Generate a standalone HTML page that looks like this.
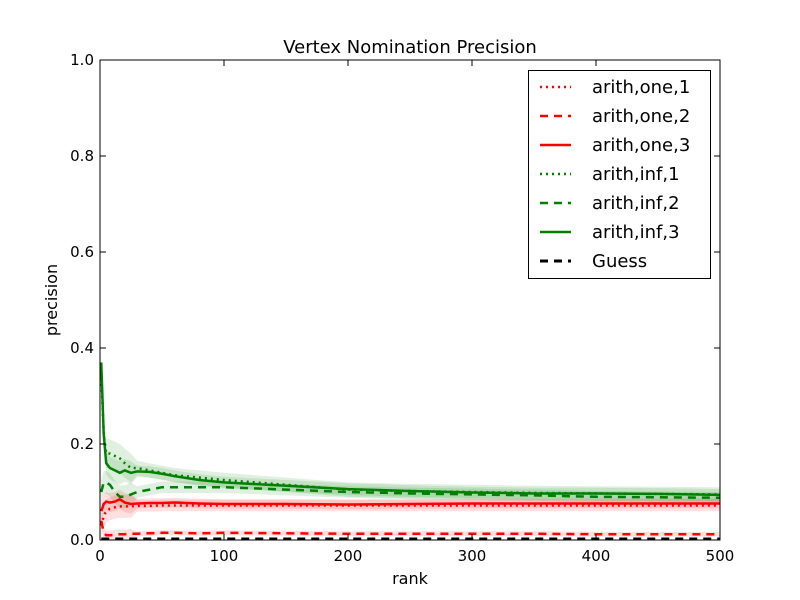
<!DOCTYPE html>
<html><head><meta charset="utf-8"><style>
body{margin:0;background:#fff}
svg{display:block;font-family:"DejaVu Sans","Liberation Sans",sans-serif}
</style></head><body>
<svg id="chart" width="800" height="600" xmlns="http://www.w3.org/2000/svg">
<rect width="800" height="600" fill="#fff"/>
<g id="bands"></g><g id="lines"></g>
<g id="axes"></g>
<text x="410" y="53" text-anchor="middle" font-size="18">Vertex Nomination Precision</text>
<text x="410" y="584" text-anchor="middle" font-size="16">rank</text>
<text transform="translate(57,300) rotate(-90)" text-anchor="middle" font-size="16">precision</text>
<g>
<rect x="528.5" y="70.5" width="182" height="208" fill="#fff" stroke="#000"/>
<g id="legend-items"></g>
</g>
</svg>
<script>
const ranks=[1,3,5,8,12,16,20,25,30,40,50,60,80,100,150,200,250,300,350,400,450,500];
const oneDot=[0.03,0.05,0.06,0.065,0.068,0.07,0.07,0.07,0.071,0.071,0.072,0.072,0.072,0.072,0.072,0.072,0.072,0.072,0.072,0.072,0.072,0.072];
const oneDash=[0.04,0.015,0.01,0.01,0.011,0.012,0.012,0.013,0.013,0.014,0.015,0.015,0.014,0.015,0.014,0.013,0.013,0.013,0.013,0.012,0.012,0.012];
const oneSolid=[0.06,0.075,0.08,0.078,0.08,0.085,0.078,0.075,0.076,0.077,0.077,0.078,0.076,0.075,0.075,0.074,0.075,0.076,0.076,0.076,0.076,0.076];
const infDot=[0.35,0.22,0.18,0.18,0.175,0.17,0.16,0.15,0.15,0.145,0.14,0.135,0.13,0.125,0.115,0.105,0.102,0.1,0.098,0.097,0.096,0.095];
const infDash=[0.1,0.12,0.12,0.115,0.1,0.09,0.09,0.095,0.1,0.105,0.11,0.11,0.11,0.11,0.105,0.1,0.097,0.095,0.093,0.09,0.089,0.088];
const infSolid=[0.37,0.22,0.16,0.15,0.145,0.14,0.145,0.14,0.143,0.142,0.138,0.133,0.125,0.12,0.113,0.106,0.102,0.099,0.097,0.097,0.096,0.094];
const guess=[0.002,0.002,0.002,0.002,0.002,0.002,0.002,0.002,0.002,0.002,0.002,0.002,0.002,0.002,0.002,0.002,0.002,0.002,0.002,0.002,0.002,0.002];
const xTicks=[0,100,200,300,400,500];
const yTicks=[0.0,0.2,0.4,0.6,0.8,1.0];
const X0=100,X1=720,Y0=540,Y1=60;
const sx=v=>X0+(v/500)*(X1-X0), sy=v=>Y0-v*(Y0-Y1);
const NS="http://www.w3.org/2000/svg";
function mk(t,a,p){const e=document.createElementNS(NS,t);for(const k in a)e.setAttribute(k,a[k]);p.appendChild(e);return e;}
const series=[
 {n:"arith,one,1",d:oneDot,c:"#ff0000",dash:"2,4",w:2.5,bw:0.012},
 {n:"arith,one,2",d:oneDash,c:"#ff0000",dash:"8,6",w:2.5,bw:0.005},
 {n:"arith,one,3",d:oneSolid,c:"#ff0000",dash:"",w:2.5,bw:0.01},
 {n:"arith,inf,1",d:infDot,c:"#008000",dash:"2,4",w:2.5,bw:0.015},
 {n:"arith,inf,2",d:infDash,c:"#008000",dash:"8,6",w:2.5,bw:0.012},
 {n:"arith,inf,3",d:infSolid,c:"#008000",dash:"",w:2.5,bw:0.012},
 {n:"Guess",d:guess,c:"#000",dash:"8,6",w:3,bw:0}
];
const bands=document.getElementById('bands'),lines=document.getElementById('lines');
series.forEach((s,i)=>{
 if(s.bw>0){
  const up=ranks.map((r,j)=>sx(r)+","+sy(s.d[j]+s.bw*(r<30?2:1)));
  const lo=ranks.map((r,j)=>sx(r)+","+sy(Math.max(0,s.d[j]-s.bw*(r<30?2:1)))).reverse();
  const b=mk('polygon',{points:up.concat(lo).join(' '),fill:s.c,'fill-opacity':0.12},bands);
  
  
 }
 const l=mk('polyline',{points:ranks.map((r,j)=>sx(r)+","+sy(s.d[j])).join(' '),fill:'none',stroke:s.c,'stroke-width':s.w,'stroke-dasharray':s.dash},lines);
 
 
 const li=document.getElementById('legend-items'),y=87+i*29;
 const ls=mk('line',{x1:540,x2:571,y1:y,y2:y,stroke:s.c,'stroke-width':s.w,'stroke-dasharray':s.dash},li);
 
 
 const lt=mk('text',{x:592,y:y+6,'font-size':18},li);lt.textContent=s.n;
 
 
});
const ax=document.getElementById('axes');
const fr=mk('rect',{x:X0,y:Y1,width:X1-X0,height:Y0-Y1,fill:'none',stroke:'#000','stroke-width':1},ax);


xTicks.forEach(t=>{const x=sx(t);
 mk('line',{x1:x,x2:x,y1:Y0,y2:Y0-6,stroke:'#000'},ax);mk('line',{x1:x,x2:x,y1:Y1,y2:Y1+6,stroke:'#000'},ax);
 const tx=mk('text',{x:x,y:Y0+21,'text-anchor':'middle','font-size':15},ax);tx.textContent=t;
 
 
});
yTicks.forEach(t=>{const y=sy(t);
 mk('line',{x1:X0,x2:X0+6,y1:y,y2:y,stroke:'#000'},ax);mk('line',{x1:X1,x2:X1-6,y1:y,y2:y,stroke:'#000'},ax);
 const tx=mk('text',{x:X0-6,y:y+5,'text-anchor':'end','font-size':15},ax);tx.textContent=t.toFixed(1);
 
 
});
</script>
</body></html>
